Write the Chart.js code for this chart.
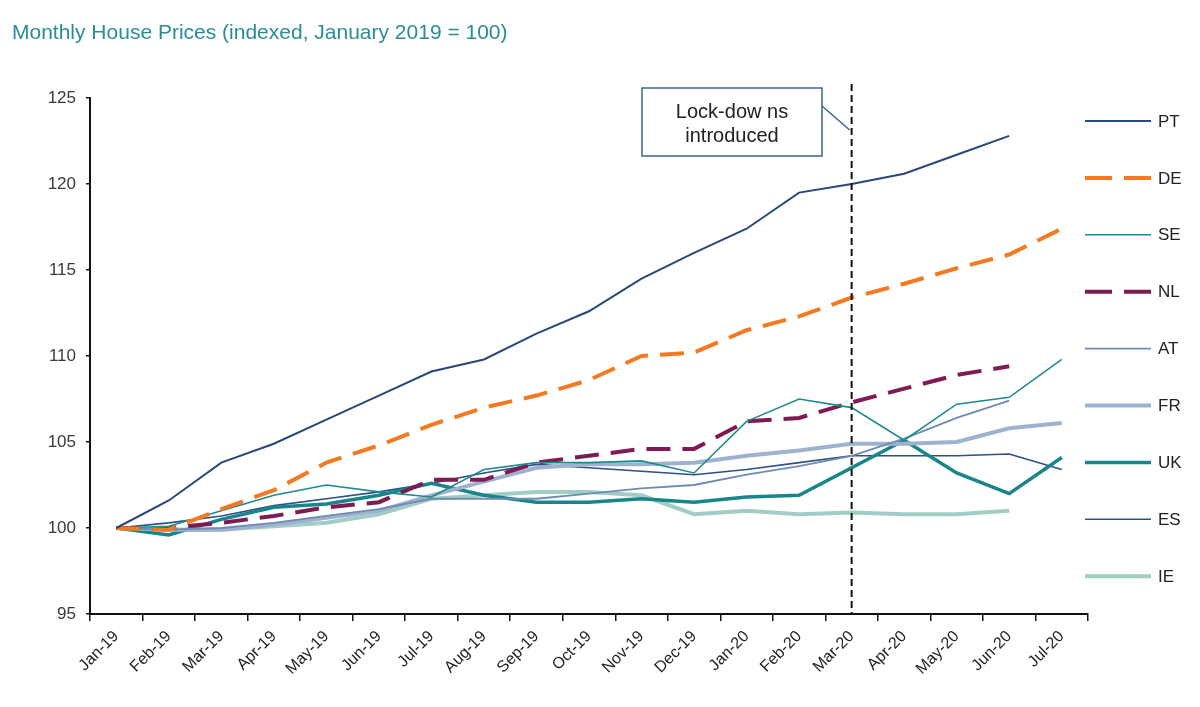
<!DOCTYPE html>
<html>
<head>
<meta charset="utf-8">
<script src="https://cdn.jsdelivr.net/npm/chart.js@4"></script>
<style>
  html, body { margin: 0; padding: 0; background: #fff; }
  #wrap { width: 1200px; height: 707px; }
</style>
</head>
<body>
<div id="wrap"><canvas id="houseChart" width="1200" height="707"></canvas></div>
<script>
// == data ==
const months = ['Jan-19','Feb-19','Mar-19','Apr-19','May-19','Jun-19','Jul-19','Aug-19','Sep-19','Oct-19','Nov-19','Dec-19',
                'Jan-20','Feb-20','Mar-20','Apr-20','May-20','Jun-20','Jul-20'];
const yTicks = [95, 100, 105, 110, 115, 120, 125];

const pt = [100, 101.6, 103.8, 104.9, 106.3, 107.7, 109.1, 109.8, 111.3, 112.6, 114.5, 116.0, 117.4, 119.5, 120.0, 120.6, 121.7, 122.8, null];
const de = [100, 99.9, 101.1, 102.2, 103.8, 104.8, 106.0, 107.0, 107.7, 108.6, 110.0, 110.2, 111.5, 112.3, 113.4, 114.2, 115.1, 115.9, 117.4];
const se = [100, 100.1, 101.0, 101.9, 102.5, 102.1, 101.8, 103.4, 103.8, 103.8, 103.9, 103.2, 106.2, 107.5, 107.0, 105.1, 107.2, 107.6, 109.8];
const nl = [100, 100.0, 100.3, 100.7, 101.2, 101.5, 102.8, 102.8, 103.8, 104.2, 104.6, 104.6, 106.2, 106.4, 107.3, 108.1, 108.9, 109.4, null];
const at = [100, 99.9, 100.0, 100.3, 100.7, 101.1, 101.7, 101.7, 101.7, 102.0, 102.3, 102.5, 103.1, 103.6, 104.2, 105.2, 106.4, 107.4, null];
const fr = [100, 99.9, 99.9, 100.2, 100.6, 101.0, 101.9, 102.7, 103.5, 103.7, 103.7, 103.8, 104.2, 104.5, 104.9, 104.9, 105.0, 105.8, 106.1];
const uk = [100, 99.6, 100.5, 101.2, 101.4, 101.9, 102.6, 101.9, 101.5, 101.5, 101.7, 101.5, 101.8, 101.9, 103.5, 105.1, 103.2, 102.0, 104.1];
const es = [100, 100.3, 100.7, 101.3, 101.7, 102.1, 102.6, 103.2, 103.7, 103.5, 103.3, 103.1, 103.4, 103.8, 104.2, 104.2, 104.2, 104.3, 103.4];
const ie = [100, 99.9, 99.9, 100.1, 100.3, 100.8, 101.7, 101.9, 102.1, 102.1, 101.9, 100.8, 101.0, 100.8, 100.9, 100.8, 100.8, 101.0, null];

const lockdownMonth = 'Mar-20';
const lockdownText = ['Lock-dow ns', 'introduced'];
const titleText = 'Monthly House Prices (indexed, January 2019 = 100)';

const FONT = '"Liberation Sans", Arial, sans-serif';
const DASH = [24, 12];

function series(label, data, color, width, dash) {
    return {
        label: label,
        data: data,
        borderColor: color,
        backgroundColor: color,
        borderWidth: width,
        borderDash: dash || [],
        pointRadius: 0,
        tension: 0,
        fill: false,
        spanGaps: false
    };
}

// draws title, lockdown marker + callout and the right-hand legend
const extras = {
    id: 'extras',
    afterDatasetsDraw(chart) {
        const ctx = chart.ctx;
        const area = chart.chartArea;
        const x = chart.scales.x.getPixelForValue(months.indexOf(lockdownMonth));

        ctx.save();
        // dashed lockdown line
        ctx.strokeStyle = '#111';
        ctx.lineWidth = 2;
        ctx.setLineDash([7, 4]);
        ctx.beginPath();
        ctx.moveTo(x, 84);
        ctx.lineTo(x, area.bottom);
        ctx.stroke();
        ctx.setLineDash([]);

        // callout box
        const bx = 642, by = 88, bw = 180, bh = 68;
        ctx.fillStyle = '#fff';
        ctx.fillRect(bx, by, bw, bh);
        ctx.strokeStyle = '#3b6591';
        ctx.lineWidth = 1.5;
        ctx.strokeRect(bx, by, bw, bh);
        ctx.beginPath();
        ctx.moveTo(bx + bw, by + 18);
        ctx.lineTo(x - 2, by + 42);
        ctx.stroke();
        ctx.fillStyle = '#222';
        ctx.font = '20px ' + FONT;
        ctx.textAlign = 'center';
        ctx.textBaseline = 'middle';
        ctx.fillText(lockdownText[0], bx + bw / 2, by + 24);
        ctx.fillText(lockdownText[1], bx + bw / 2, by + 48);

        // title
        ctx.fillStyle = '#2a8c98';
        ctx.font = '21px ' + FONT;
        ctx.textAlign = 'left';
        ctx.fillText(titleText, 12, 33);

        // legend
        ctx.font = '17px ' + FONT;
        chart.data.datasets.forEach((ds, i) => {
            const ly = 121 + i * 56.9;
            ctx.strokeStyle = ds.borderColor;
            ctx.lineWidth = ds.borderWidth;
            ctx.setLineDash(ds.borderDash.length ? [27, 12] : []);
            ctx.beginPath();
            ctx.moveTo(1085, ly);
            ctx.lineTo(1151, ly);
            ctx.stroke();
            ctx.setLineDash([]);
            ctx.fillStyle = '#222';
            ctx.fillText(ds.label, 1158, ly + 1);
        });
        ctx.restore();
    }
};

const canvas = document.getElementById('houseChart');
new Chart(canvas.getContext('2d'), {
    type: 'line',
    data: {
        labels: months,
        datasets: [
            series('PT', pt, '#26497a', 2),
            series('DE', de, '#f47a22', 4, DASH),
            series('SE', se, '#1f8a8d', 1.6),
            series('NL', nl, '#7e1b52', 4, DASH),
            series('AT', at, '#6c8cb3', 1.8),
            series('FR', fr, '#9eb2cf', 4),
            series('UK', uk, '#17858a', 3.5),
            series('ES', es, '#2f4f88', 1.6),
            series('IE', ie, '#a2cdc5', 4)
        ]
    },
    options: {
        responsive: false,
        animation: false,
        layout: { padding: { top: 98, right: 112, left: 0, bottom: 0 } },
        plugins: {
            legend: { display: false },
            title: { display: false },
            tooltip: { enabled: false }
        },
        scales: {
            x: {
                offset: true,
                afterFit: s => { s.height = 93; },
                grid: { offset: true, drawOnChartArea: false, color: '#111', tickLength: 7, lineWidth: 1.5 },
                border: { display: true, color: '#111', width: 2 },
                ticks: {
                    autoSkip: false,
                    maxRotation: 45,
                    minRotation: 45,
                    color: '#222',
                    font: { family: FONT, size: 16 },
                    padding: 6
                }
            },
            y: {
                min: 95,
                max: 125,
                afterFit: s => { s.width = 90; },
                afterBuildTicks: s => { s.ticks = yTicks.map(v => ({ value: v })); },
                grid: { drawOnChartArea: false, color: '#111', tickLength: 4, lineWidth: 1.5 },
                border: { display: true, color: '#111', width: 2 },
                ticks: {
                    color: '#3a3a3a',
                    font: { family: FONT, size: 17 },
                    padding: 10
                }
            }
        }
    },
    plugins: [extras]
});
</script>
</body>
</html>
